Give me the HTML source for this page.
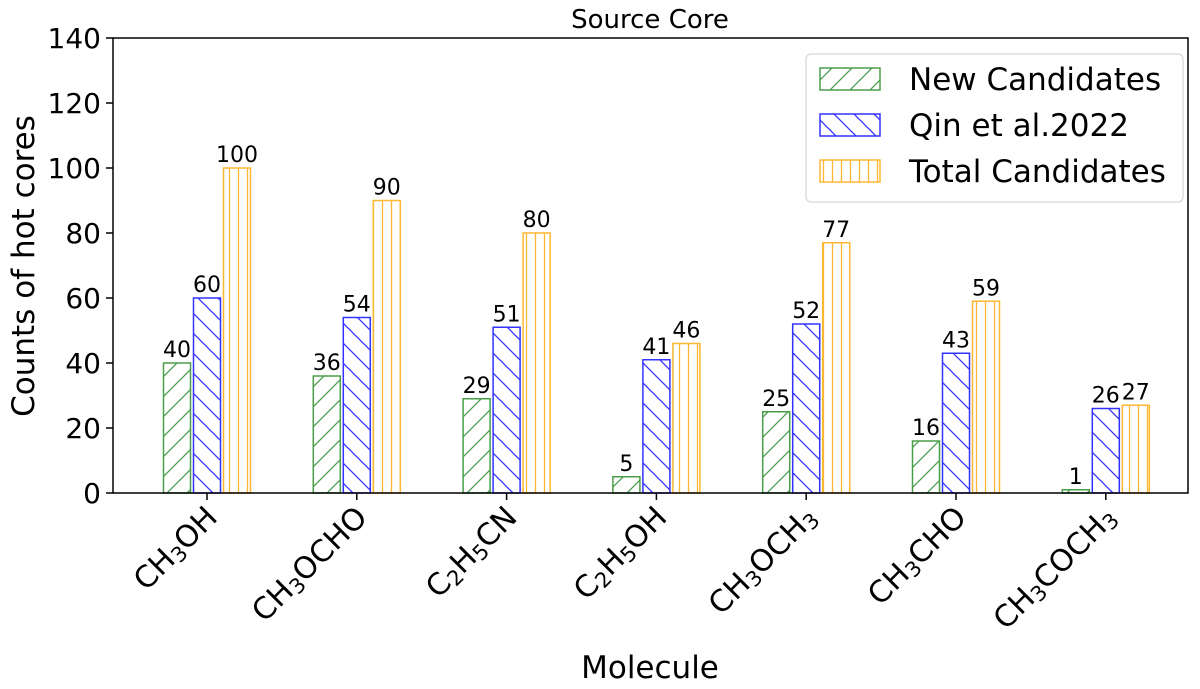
<!DOCTYPE html>
<html><head><meta charset="utf-8"><style>
body{margin:0;background:#fff}
text{font-family:"DejaVu Sans","Liberation Sans",sans-serif}
</style></head><body>
<svg id="chart" width="1200" height="684" viewBox="0 0 1200 684" xmlns="http://www.w3.org/2000/svg">
<defs>
<pattern id="hg" patternUnits="userSpaceOnUse" width="20" height="20"><path d="M-5,5 L5,-5 M0,20 L20,0 M15,25 L25,15" stroke="#4a9e4a" stroke-width="1.3"/></pattern>
<pattern id="hb" patternUnits="userSpaceOnUse" width="20" height="20"><path d="M-5,15 L5,25 M0,0 L20,20 M15,-5 L25,5" stroke="#3333ff" stroke-width="1.3"/></pattern>
<pattern id="ho" patternUnits="userSpaceOnUse" width="9" height="10"><path d="M4.5,0 L4.5,10" stroke="#ffb733" stroke-width="1.3"/></pattern>
</defs>
<g id="plot"></g>
</svg>
<script>
const categories=["CH3OH","CH3OCHO","C2H5CN","C2H5OH","CH3OCH3","CH3CHO","CH3COCH3"];
const labelsHtml=[["CH","3","OH"],["CH","3","OCHO"],["C","2","H","5","CN"],["C","2","H","5","OH"],["CH","3","OCH","3"],["CH","3","CHO"],["CH","3","COCH","3"]];
const newCand=[40,36,29,5,25,16,1];
const qin=[60,54,51,41,52,43,26];
const total=[100,90,80,46,77,59,27];
const yTicks=[0,20,40,60,80,100,120,140];
const L=113,R=1188,T=38,B=493;
const y=v=>B-(v/140)*(B-T);
const xc=i=>207+i*149.8;
const NS="http://www.w3.org/2000/svg";
const g=document.getElementById('plot');
function el(t,a,txt){const e=document.createElementNS(NS,t);for(const k in a)e.setAttribute(k,a[k]);if(txt!==undefined)e.textContent=txt;g.appendChild(e);return e;}
const series=[{d:newCand,fill:"url(#hg)",stroke:"#4a9e4a",off:-30,name:"new"},{d:qin,fill:"url(#hb)",stroke:"#3333ff",off:0,name:"qin"},{d:total,fill:"url(#ho)",stroke:"#ffb733",off:30,name:"total"}];
series.forEach(s=>{s.d.forEach((v,i)=>{
 const cx=xc(i)+s.off;
 const r=el('rect',{x:cx-13.5,y:y(v),width:27,height:B-y(v),fill:s.fill,stroke:s.stroke,'stroke-width':1.5});
 
 
 const t=el('text',{x:cx,y:y(v)-6,'text-anchor':'middle','font-size':22},String(v));
 
 
});});
const ax=el('rect',{x:L,y:T,width:R-L,height:B-T,fill:'none',stroke:'#000','stroke-width':1.5});


yTicks.forEach(v=>{
 el('line',{x1:L-7,x2:L,y1:y(v),y2:y(v),stroke:'#000','stroke-width':1.5});
 const t=el('text',{x:L-12,y:y(v)+10,'text-anchor':'end','font-size':28},String(v));
 
 
});
categories.forEach((c,i)=>{
 const x=xc(i);
 el('line',{x1:x,x2:x,y1:B,y2:B+7,stroke:'#000','stroke-width':1.5});
 const t=el('text',{x:0,y:0,'text-anchor':'end','font-size':30,transform:`translate(${x+12},${B+26}) rotate(-45)`});
 
 
 labelsHtml[i].forEach((p,k)=>{const ts=document.createElementNS(NS,'tspan');ts.textContent=p;if(k%2==1){ts.setAttribute('font-size','21');ts.setAttribute('dy','4');}else if(k>0){ts.setAttribute('dy','-4');}t.appendChild(ts);});
});
let t=el('text',{x:650,y:28,'text-anchor':'middle','font-size':26},'Source Core');

t=el('text',{x:650,y:678,'text-anchor':'middle','font-size':31},'Molecule');

t=el('text',{x:0,y:0,'text-anchor':'middle','font-size':31,transform:'translate(34,266) rotate(-90)'},'Counts of hot cores');

const lg=el('rect',{x:806,y:54,width:377,height:148,rx:5,fill:'#fff',stroke:'#ddd','stroke-width':1.5});

const names=["New Candidates","Qin et al.2022","Total Candidates"];
series.forEach((s,k)=>{
 const yy=68+k*46;
 const r=el('rect',{x:820,y:yy,width:60,height:22,fill:s.fill,stroke:s.stroke,'stroke-width':1.5});
 
 const tx=el('text',{x:909,y:yy+22,'font-size':31},names[k]);
 
});
</script>
</body></html>
